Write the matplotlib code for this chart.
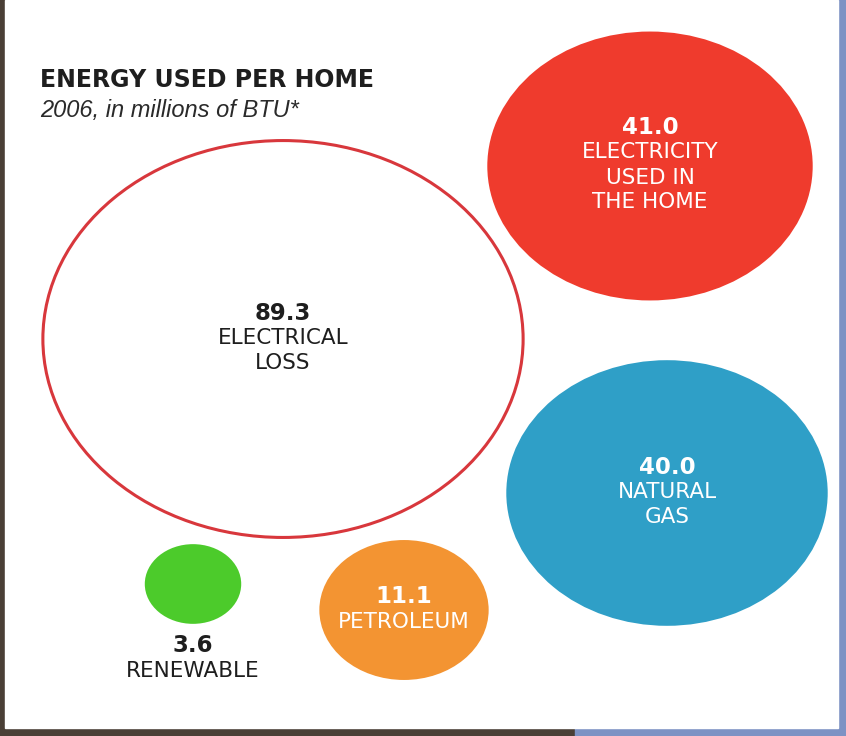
import matplotlib
matplotlib.use('Agg')
import matplotlib.pyplot as plt
import numpy as np
from matplotlib.patches import Ellipse, Rectangle

plt.rcParams['font.family'] = ['DejaVu Sans']

# data
values = [89.3, 41.0, 40.0, 11.1, 3.6]
labels = [['ELECTRICAL', 'LOSS'],
          ['ELECTRICITY', 'USED IN', 'THE HOME'],
          ['NATURAL', 'GAS'],
          ['PETROLEUM'],
          ['RENEWABLE']]

# layout (pixel coords of bubble centres) and style
centers = [(283, 339), (650, 166), (667, 493), (404, 610), (193, 584)]
face = ['white', '#ef3b2d', '#2f9fc7', '#f39432', '#4ccb2b']
edge = ['#d8373c', 'none', 'none', 'none', 'none']
txt_col = ['#1e1e1e', 'white', 'white', 'white', '#1e1e1e']
K = 42.0      # diameter px per sqrt(value)
SX = 1.21     # horizontal stretch of the scan

fig = plt.figure(figsize=(8.46, 7.36), dpi=100, facecolor='#4a3f36')
ax = fig.add_axes([0, 0, 1, 1])
ax.set_xlim(0, 846)
ax.set_ylim(736, 0)
ax.axis('off')

# page + scan edges
ax.add_patch(Rectangle((838, 0), 8, 736, color='#7d92c4', zorder=0))
ax.add_patch(Rectangle((575, 728), 271, 8, color='#7d92c4', zorder=0))
ax.add_patch(Rectangle((5, 0), 833, 728, color='white', zorder=1))

ax.text(40, 80, 'ENERGY USED PER HOME', fontsize=17, fontweight='bold',
        color='#1e1e1e', va='center', ha='left', zorder=5)
ax.text(40, 110, '2006, in millions of BTU*', fontsize=17, fontstyle='italic',
        family='Liberation Sans', color='#2a2a2a', va='center', ha='left', zorder=5)

for i, v in enumerate(values):
    d = K * np.sqrt(v)
    cx, cy = centers[i]
    ax.add_patch(Ellipse((cx, cy), SX * d, d, facecolor=face[i],
                         edgecolor=edge[i], linewidth=2.2 if edge[i] != 'none' else 0,
                         zorder=3))
    lines = labels[i]
    if i == 4:
        # renewable label sits below its bubble
        y0 = cy + d / 2 + 22
    else:
        y0 = cy - 12.5 * len(lines) - 1
    ax.text(cx, y0, f'{v:.1f}', fontsize=16.5, fontweight='bold', color=txt_col[i],
            ha='center', va='center', zorder=5)
    for j, s in enumerate(lines):
        ax.text(cx, y0 + 25 * (j + 1), s, fontsize=15.5, color=txt_col[i],
                ha='center', va='center', zorder=5)

fig.savefig('out.png', dpi=100, facecolor=fig.get_facecolor())
